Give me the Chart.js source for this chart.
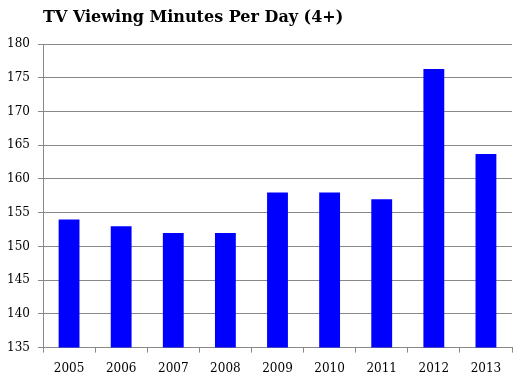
<!DOCTYPE html>
<html>
<head>
<meta charset="utf-8">
<script src="https://cdn.jsdelivr.net/npm/chart.js@4"></script>
<style>
  html, body { margin: 0; padding: 0; background: #fff; }
  canvas { display: block; }
</style>
</head>
<body>
<canvas id="tvChart" width="518" height="385"></canvas>
<script>
// Data
const years = ["2005", "2006", "2007", "2008", "2009", "2010", "2011", "2012", "2013"];
const minutesPerDay = [154, 153, 152, 152, 158, 158, 157, 176.3, 163.7];
const chartTitle = "TV Viewing Minutes Per Day (4+)";

// Title drawn at left edge of plot area
const titlePlugin = {
    id: "leftTitle",
    afterDraw(chart) {
        const ctx = chart.ctx;
        ctx.save();
        ctx.font = "bold 16px 'DejaVu Serif'";
        ctx.fillStyle = "#000";
        ctx.textBaseline = "middle";
        ctx.textAlign = "left";
        ctx.fillText(chartTitle, chart.chartArea.left, 18);
        ctx.restore();
    }
};

const ctx = document.getElementById("tvChart").getContext("2d");
new Chart(ctx, {
    type: "bar",
    data: {
        labels: years,
        datasets: [{
            data: minutesPerDay,
            backgroundColor: "#0000ff",
            borderWidth: 0,
            barPercentage: 0.8,
            categoryPercentage: 0.5,
        }],
    },
    options: {
        responsive: false,
        animation: false,
        layout: { padding: { top: 44, right: 6, bottom: 0, left: 0 } },
        plugins: {
            legend: { display: false },
            tooltip: { enabled: false },
        },
        scales: {
            x: {
                grid: {
                    offset: true,
                    drawOnChartArea: false,
                    drawTicks: true,
                    tickLength: 5,
                    color: "#888",
                },
                border: { color: "#888" },
                ticks: {
                    color: "#000",
                    font: { family: "'DejaVu Serif'", size: 12 },
                    padding: 9,
                    maxRotation: 0,
                },
            },
            y: {
                min: 135,
                max: 180,
                afterFit(scale) { scale.width = 43; },
                grid: {
                    color: "#888",
                    tickLength: 5,
                },
                border: { color: "#888" },
                ticks: {
                    stepSize: 5,
                    color: "#000",
                    font: { family: "'DejaVu Serif'", size: 12 },
                    padding: 8,
                },
            },
        },
    },
    plugins: [titlePlugin],
});
</script>
</body>
</html>
